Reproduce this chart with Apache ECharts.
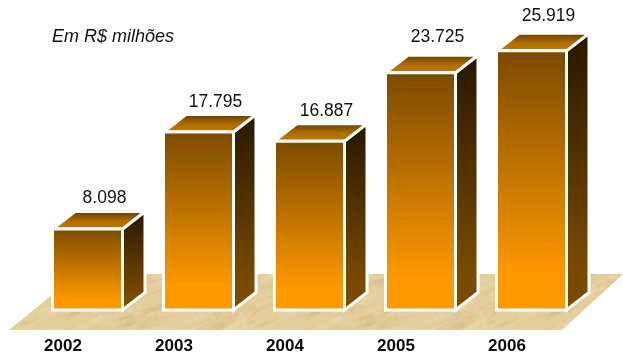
<!DOCTYPE html>
<html>
<head>
<meta charset="utf-8">
<style>html,body{margin:0;padding:0;background:#fff}#chart{width:623px;height:353px}</style>
<script src="https://cdn.jsdelivr.net/npm/echarts@6/dist/echarts.min.js"></script>
</head>
<body>
<div id="chart"></div>
<script>
// Receita anual em R$ milhões
var years = ['2002', '2003', '2004', '2005', '2006'];
var revenue = [8098, 17795, 16887, 23725, 25919];
var unitNote = 'Em R$ milhões';

// Distance from each bar's front top edge to the centre of its value label
var labelGaps = [31, 30, 30, 36, 35];

var FONT = '"Liberation Sans", Arial, sans-serif';
var DEPTH_X = 22.5, DEPTH_Y = 17.5, BAR_RATIO = 70 / 111;

function vGrad(stops) {
  return new echarts.graphic.LinearGradient(0, 0, 0, 1, stops.map(function (s) {
    return { offset: s[0], color: s[1] };
  }));
}

// Sand texture for the floor: soft diagonal blotches, from a fixed sine pattern.
// Each blotch is also drawn shifted by one tile so the repeat has no seam.
function sandTexture() {
  var c = document.createElement('canvas');
  c.width = 240; c.height = 120;
  var g = c.getContext('2d');
  g.fillStyle = '#E3CE9C';
  g.fillRect(0, 0, c.width, c.height);
  g.lineCap = 'round';
  for (var i = 0; i < 420; i++) {
    var a = Math.sin(i * 12.9898) * 43758.5453, b = Math.sin(i * 78.233) * 12543.853;
    var x = (a - Math.floor(a)) * c.width, y = (b - Math.floor(b)) * c.height;
    g.strokeStyle = i % 2 === 0 ? 'rgba(205,175,110,0.16)' : 'rgba(240,226,190,0.20)';
    g.lineWidth = 2 + (i % 4);
    [[0, 0], [-c.width, 0], [0, c.height], [-c.width, c.height]].forEach(function (s) {
      g.beginPath();
      g.moveTo(x + s[0], y + s[1]);
      g.lineTo(x + s[0] + 10 + (i % 14), y + s[1] - 3 - (i % 6));
      g.stroke();
    });
  }
  return c;
}

function drawBar(params, api) {
  var value = api.value(1);
  var base = api.coord([api.value(0), 0]);
  var top = api.coord([api.value(0), value]);
  var w = api.size([1, 0])[0] * BAR_RATIO;
  var x0 = base[0] - w / 2, x1 = base[0] + w / 2, y0 = top[1], y1 = base[1];
  var stroke = { stroke: '#fff', lineWidth: 3, lineJoin: 'miter' };
  function face(points, fill) {
    return { type: 'polygon', shape: { points: points }, style: Object.assign({ fill: fill }, stroke) };
  }
  return {
    type: 'group',
    children: [
      face([[x1, y0], [x1 + DEPTH_X, y0 - DEPTH_Y], [x1 + DEPTH_X, y1 - DEPTH_Y], [x1, y1]],
        vGrad([[0, '#261700'], [0.85, '#7A4A00'], [1, '#7A4A00']])),
      face([[x0, y0], [x0 + DEPTH_X, y0 - DEPTH_Y], [x1 + DEPTH_X, y0 - DEPTH_Y], [x1, y0]],
        vGrad([[0, '#5A3800'], [0.55, '#B06E00'], [1, '#C47C00']])),
      face([[x0, y0], [x1, y0], [x1, y1], [x0, y1]],
        vGrad([[0, '#7A4A00'], [0.87, '#FF9900'], [1, '#FF9900']])),
      {
        type: 'text',
        style: {
          text: echarts.format.addCommas(value).replace(',', '.'),
          x: base[0] + 17, y: y0 - labelGaps[params.dataIndex],
          align: 'center', verticalAlign: 'middle',
          font: '17.5px ' + FONT, fill: '#111'
        }
      }
    ]
  };
}

var chart = echarts.init(document.getElementById('chart'), null, { renderer: 'canvas' });
chart.setOption({
  animation: false,
  backgroundColor: '#fff',
  title: {
    text: unitNote, left: 52, top: 28, padding: 0,
    textStyle: { fontFamily: FONT, fontStyle: 'italic', fontWeight: 'normal', fontSize: 18, color: '#111' }
  },
  grid: { left: 32, right: 36, top: 10, bottom: 43, outerBoundsMode: 'none' },
  xAxis: {
    type: 'category',
    data: years,
    axisLine: { show: false },
    axisTick: { show: false },
    axisLabel: {
      margin: 28, fontFamily: FONT, fontWeight: 'bold', fontSize: 17, color: '#0a0a0a',
      padding: [0, 49, 0, 0], interval: 0
    }
  },
  yAxis: { type: 'value', min: 0, max: 30000, show: false },
  graphic: [{
    type: 'polygon',
    z: -1,
    silent: true,
    shape: { points: [[9, 330], [562, 330], [623, 274], [78, 274]] },
    style: { fill: { image: sandTexture(), repeat: 'repeat' } }
  }],
  series: [{
    type: 'custom',
    renderItem: drawBar,
    encode: { x: 0, y: 1 },
    data: years.map(function (y, i) { return [i, revenue[i]]; })
  }]
});
</script>
</body>
</html>
